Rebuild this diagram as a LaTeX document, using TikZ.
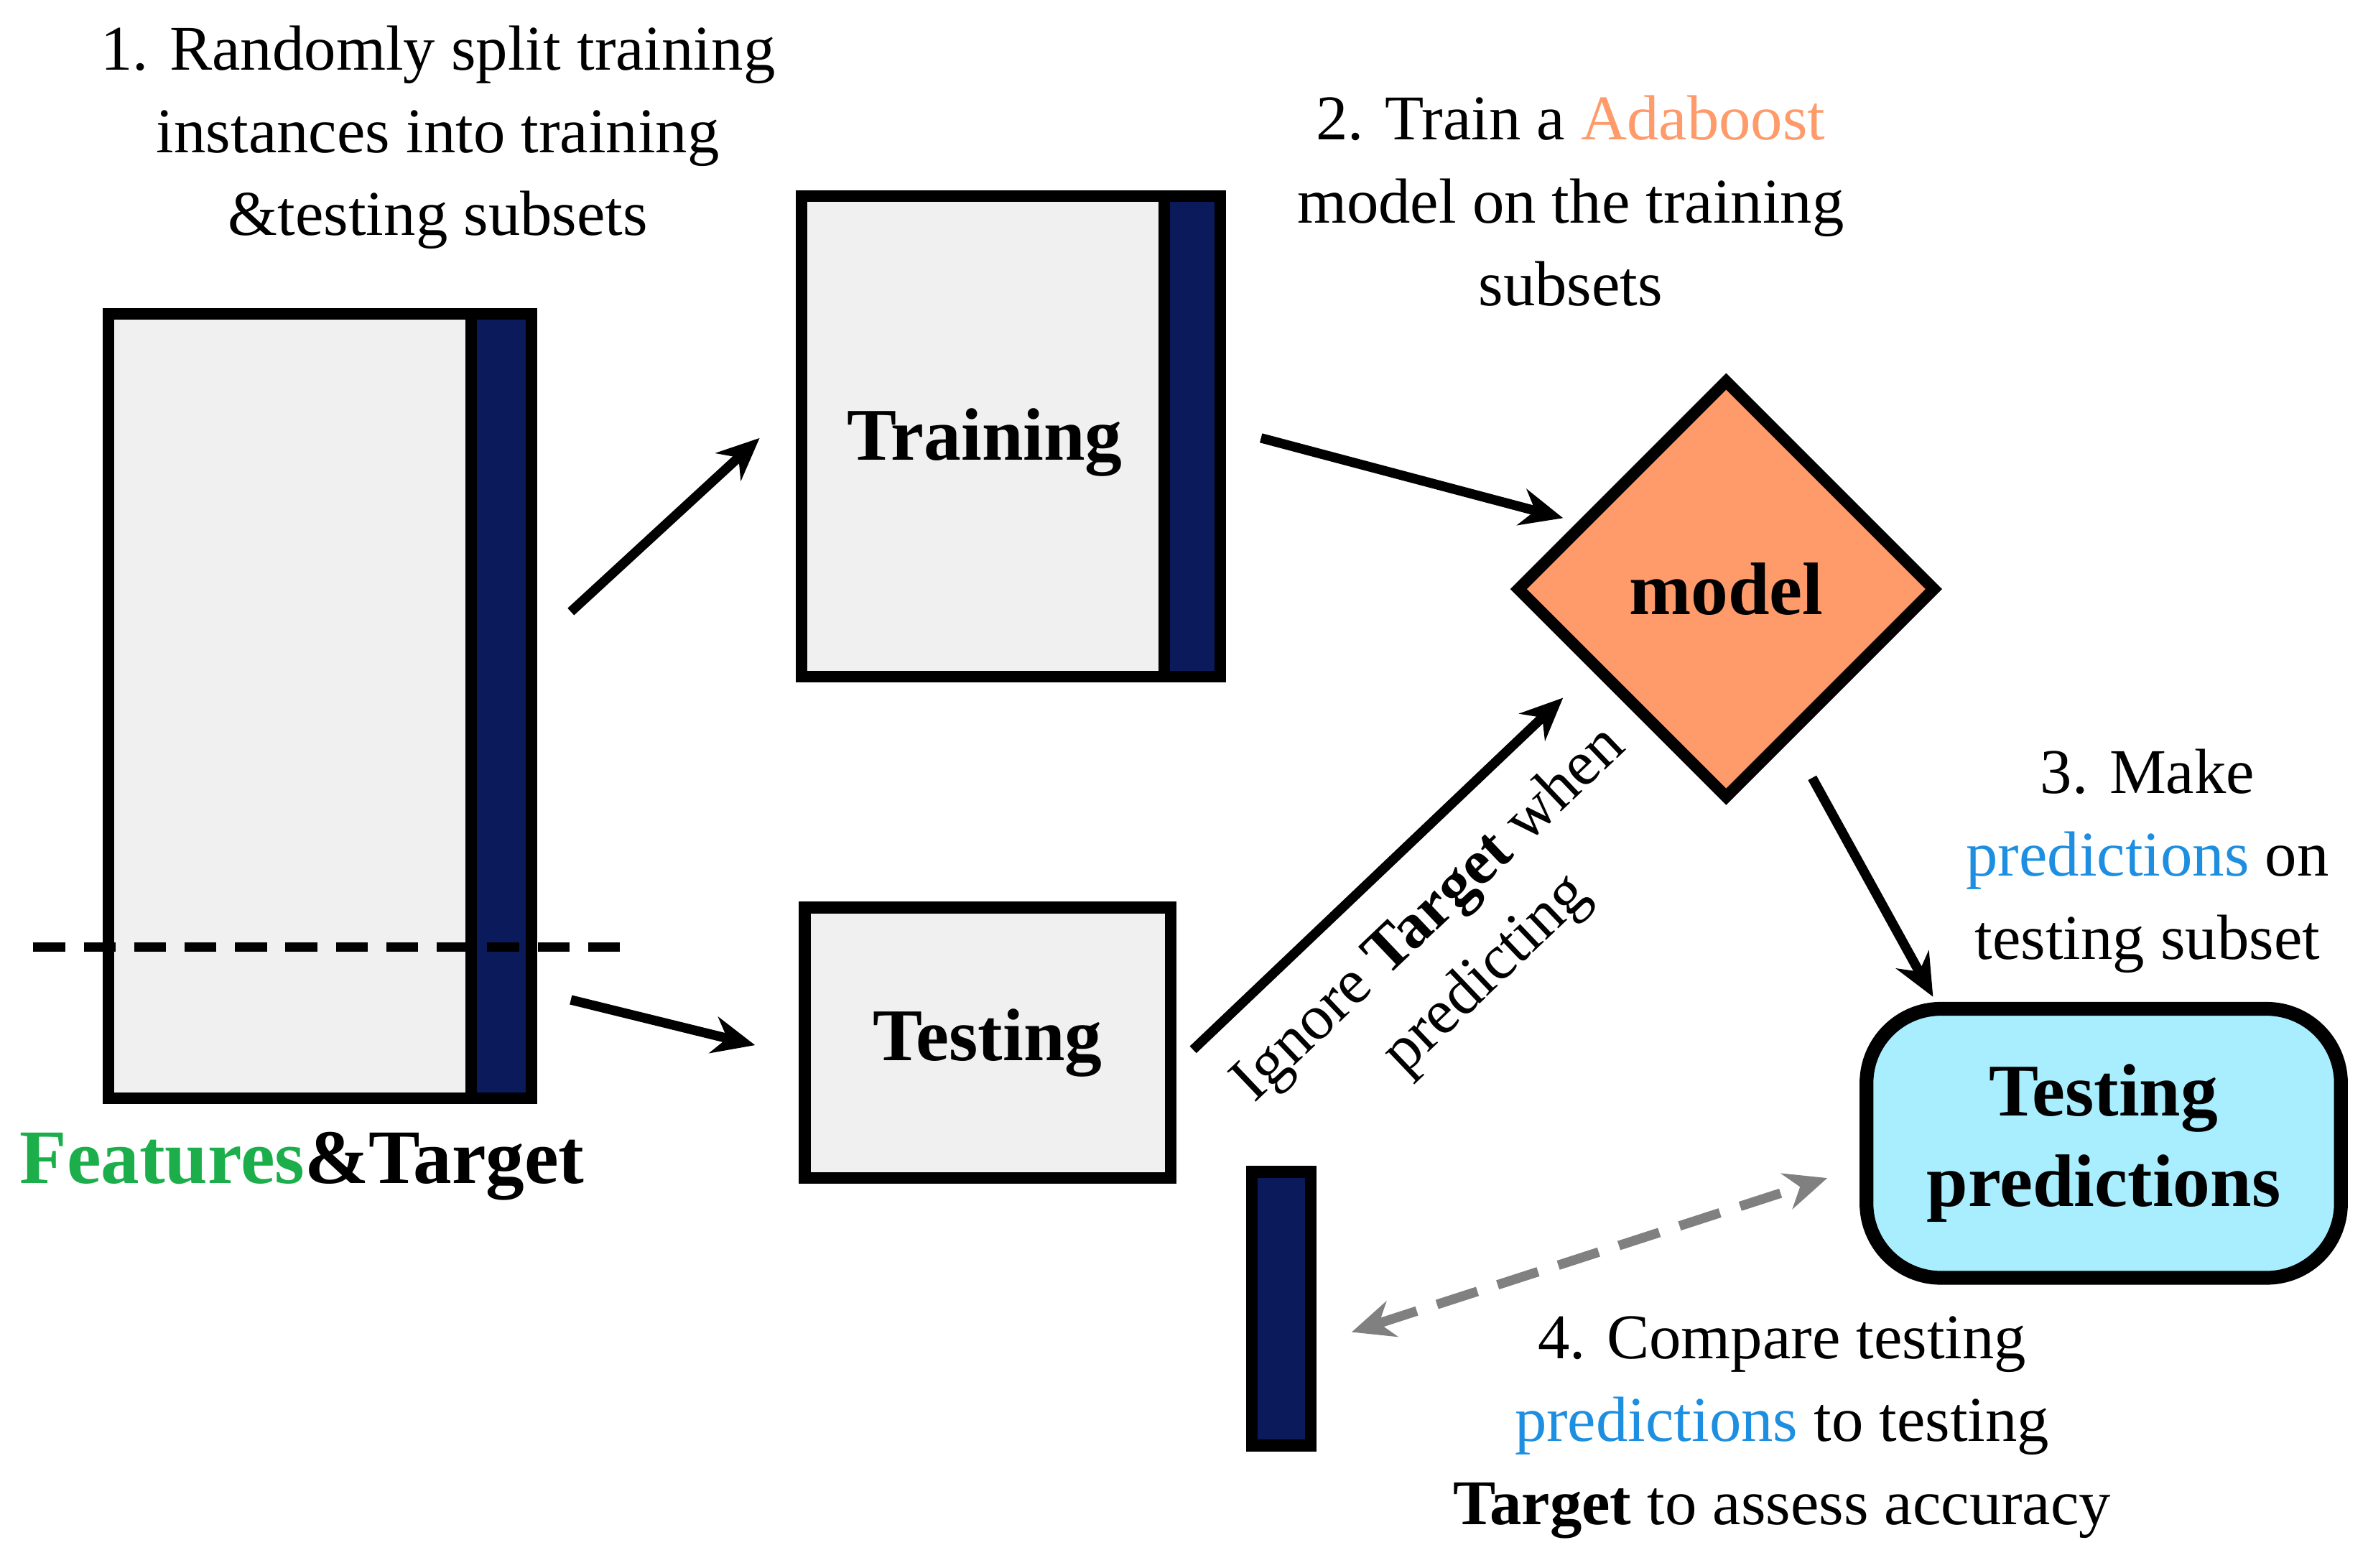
\documentclass[tikz,border=0pt]{standalone}
\usepackage{fontspec}
\setmainfont{Liberation Serif}
\usetikzlibrary{shapes.geometric,arrows.meta}
\definecolor{navy}{HTML}{0A1A5A}
\definecolor{boxgray}{HTML}{F0F0F0}
\definecolor{modelorange}{HTML}{FF9A6A}
\definecolor{predcyan}{HTML}{A8EEFF}
\definecolor{featgreen}{HTML}{1BAE4B}
\definecolor{predblue}{HTML}{1E8FE0}
\begin{document}
\begin{tikzpicture}[x=0.01cm, y=-0.01cm,
  box/.style={draw, line width=2.2pt, fill=boxgray, inner sep=0pt},
  bar/.style={draw, line width=2.2pt, fill=navy, inner sep=0pt},
  steptext/.style={align=center, font=\fontsize{12}{15.6}\selectfont},
  big/.style={font=\fontsize{14}{17}\selectfont\bfseries},
  arr/.style={-{Stealth[length=8pt,width=7pt]}, line width=1.8pt}]
  \useasboundingbox (0,0) rectangle (1568,1038);
  % Daten
  \node[box, minimum width=2.8cm, minimum height=5.19cm] (data) at (212,467.5) {};
  \node[bar, minimum width=0.4cm, minimum height=5.19cm] (databar) at (332,467.5) {};
  \draw[line width=1.8pt, dash pattern=on 6pt off 3.5pt] (22,627) -- (413,627);
  \node[font=\fontsize{14.5}{17}\selectfont\bfseries] (feat) at (200,772) {\textcolor{featgreen}{Features}\&Target};
  \node[steptext] (step1) at (290,91) {1. Randomly split training\\instances into training\\\&testing subsets};
  % Teilmengen
  \node[box, minimum width=2.77cm, minimum height=3.18cm] (train) at (669.5,289) {};
  \node[bar, minimum width=0.37cm, minimum height=3.18cm] (trainbar) at (789.5,289) {};
  \node[big] at (652,293) {Training};
  \node[box, minimum width=2.42cm, minimum height=1.79cm, big] (test) at (654,690.5) {Testing};
  \node[bar, minimum width=0.39cm, minimum height=1.81cm] (testbar) at (848.5,866.5) {};
  % Modell
  \node[diamond, draw, line width=2.2pt, fill=modelorange, minimum size=2.78cm, inner sep=0pt, big] (model) at (1143,390) {model};
  \node[steptext] (step2) at (1040,133) {2. Train a \textcolor{modelorange}{Adaboost}\\model on the training\\subsets};
  \node[draw, line width=2.6pt, rounded corners=14pt, fill=predcyan, minimum width=3.14cm, minimum height=1.78cm, align=center, big] (pred) at (1393,757) {Testing\\predictions};
  \node[steptext] (step3) at (1422,570) {3. Make\\\textcolor{predblue}{predictions} on\\testing subset};
  \node[steptext] (step4) at (1180,945) {4. Compare testing\\\textcolor{predblue}{predictions} to testing\\\textbf{Target} to assess accuracy};
  % Pfeile
  \coordinate (a1s) at (378,405); \coordinate (a1e) at (503,290);
  \coordinate (a2s) at (378,662); \coordinate (a2e) at (500,692);
  \coordinate (a3s) at (835,290); \coordinate (a3e) at (1035,343);
  \coordinate (a4s) at (790,695); \coordinate (a4e) at (1035,462);
  \coordinate (a5s) at (1200,515); \coordinate (a5e) at (1280,660);
  \coordinate (a6s) at (895,882); \coordinate (a6e) at (1210,780);
  \draw[arr] (a1s) -- (a1e);
  \draw[arr] (a2s) -- (a2e);
  \draw[arr] (a3s) -- (a3e);
  \draw[arr] (a4s) -- (a4e);
  \draw[arr] (a5s) -- (a5e);
  \draw[{Stealth[length=8pt,width=7pt]}-{Stealth[length=8pt,width=7pt]}, line width=1.8pt, gray, dash pattern=on 8pt off 4pt] (a6s) -- (a6e);
  \node[steptext, rotate=43.6] (ignore) at (966,626) {Ignore \textbf{Target} when\\predicting};
\end{tikzpicture}
\end{document}
